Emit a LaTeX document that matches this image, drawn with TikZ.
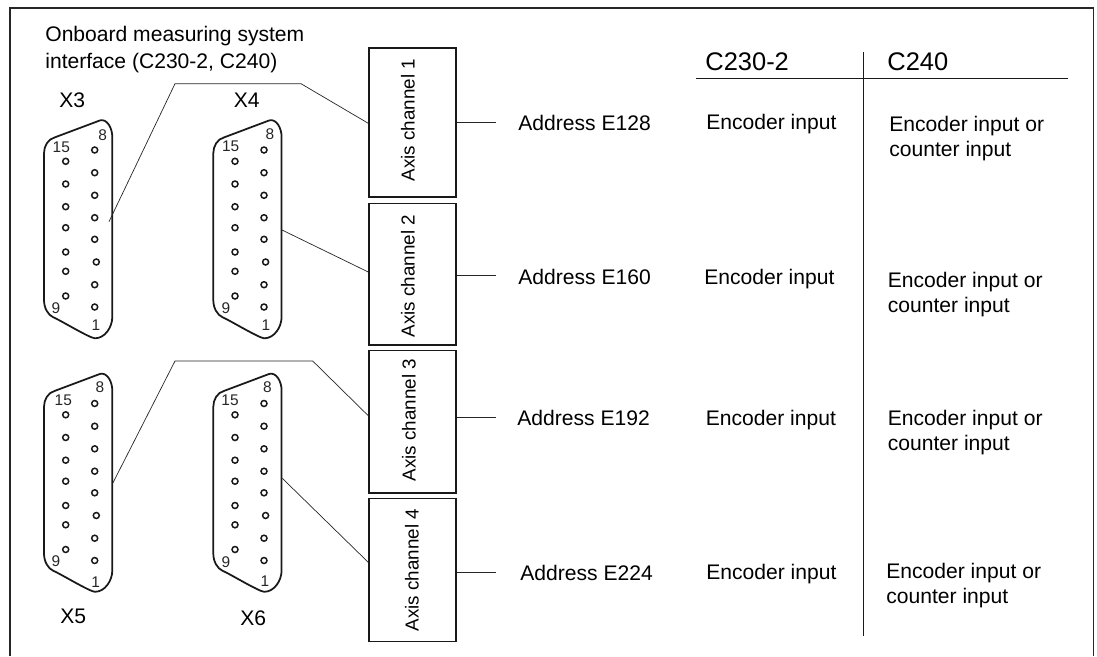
\documentclass[tikz,border=0pt]{standalone}
\usepackage{fontspec}
\setmainfont{Liberation Sans}
\usetikzlibrary{positioning}

\begin{document}
\begin{tikzpicture}[
    x=0.02cm, y=-0.02cm,
    frameline/.style={draw=black!85, line width=0.8pt},
    shell/.style={draw=black!90, line width=1pt},
    hole/.style={draw=black!90, line width=0.85pt},
    chbox/.style={draw=black!90, line width=0.85pt, minimum width=1.74cm, inner sep=0pt},
    chlabel/.style={font=\fontsize{10.7}{12}\selectfont, rotate=90, inner sep=0pt},
    wire/.style={draw=black!85, line width=0.4pt},
    rule/.style={draw=black!90, line width=0.8pt},
    txt/.style={font=\fontsize{12}{14.2}\selectfont, anchor=base west, inner sep=0pt, align=left},
    head/.style={font=\fontsize{14.5}{16}\selectfont, anchor=base west, inner sep=0pt},
    xname/.style={font=\fontsize{12}{14}\selectfont, inner sep=0pt},
    pinnum/.style={font=\fontsize{8.8}{10}\selectfont, inner sep=0pt, text=black!85}
]
\useasboundingbox (0,0) rectangle (1097,656);

% Outer frame
\coordinate (frameleft) at (10,656);
\coordinate (frametl) at (10,8);
\coordinate (frametr) at (1093.5,8);
\coordinate (frameright) at (1093.5,656);
\draw[frameline] (frameleft) -- (frametl) -- (frametr) -- (frameright);

% Title
\node[txt] (title) at (45,41) {Onboard measuring system};
\node[txt] (title2) at (45,68) {interface (C230-2, C240)};

% Sub-D connectors
\foreach \dx/\dy in {0/0, 169.3/0, 0/253.5, 169.3/253.5} {
    \begin{scope}[shift={(\dx,\dy)}]
    \draw[shell] (55,137.3) -- (100,120.4)
        .. controls (107,118.5) and (112.3,128) .. (112.3,137) -- (112.3,317)
        .. controls (112.3,327) and (105,338.3) .. (95,338.3)
        .. controls (90,338.3) and (60,320) .. (53.3,317.3)
        .. controls (48,315) and (44,308) .. (44,300) -- (44,153.3)
        .. controls (44,146) and (48,139) .. (55,137.3) -- cycle;
    \foreach \px/\py in {94.7/150, 94.7/172.7, 94.7/195.3, 94.7/217.7, 94.7/239.3, 96.3/262, 94.7/284.7, 94.7/307,
        65.7/161.3, 65.7/184, 65.7/206.7, 65.7/227.7, 65.7/252, 65.7/271.3, 65.7/296} {
        \draw[hole] (\px,\py) circle (3);
    }
    \end{scope}
}

% Pin numbers
\foreach \txtnum/\px/\py [count=\n] in {15/61.3/147.3, 8/102.7/135.3, 9/56/308.3, 1/96/325,
    15/230.7/146, 8/270/134, 9/226/308.3, 1/266/325,
    15/63.3/400, 8/100/386.7, 9/56/560.7, 1/95.7/582.3,
    15/230/400, 8/267.3/386.7, 9/226/561.7, 1/265/580.7} {
    \node[pinnum] (num\n) at (\px,\py) {\txtnum};
}

% Connector names
\node[xname] (x3) at (72.3,100.7) {X3};
\node[xname] (x4) at (246.7,100.7) {X4};
\node[xname] (x5) at (73.3,616.7) {X5};
\node[xname] (x6) at (253.3,618) {X6};

% Axis channels
\node[chbox, minimum height=2.98cm] (ch1) at (412.5,122.5) {};
\node[chbox, minimum height=2.826cm] (ch2) at (412.5,274.3) {};
\node[chbox, minimum height=2.854cm] (ch3) at (412.5,421.7) {};
\node[chbox, minimum height=2.852cm] (ch4) at (412.5,570) {};
\node[chlabel] (lab1) at (408,120) {Axis channel 1};
\node[chlabel] (lab2) at (408,276) {Axis channel 2};
\node[chlabel] (lab3) at (409,420) {Axis channel 3};
\node[chlabel] (lab4) at (412,570) {Axis channel 4};

% Wires from the connectors to the channels
\coordinate (x3out) at (109,221.7);
\coordinate (x3up) at (175,83.7);
\coordinate (x3over) at (301,83.7);
\coordinate (ch1in) at (369,123.3);
\draw[wire] (x3out) -- (x3up) -- (x3over) -- (ch1.west |- ch1in);
\coordinate (x4out) at (282,230);
\coordinate (ch2in) at (369,272);
\draw[wire] (x4out) -- (ch2.west |- ch2in);
\coordinate (x5out) at (113,482.7);
\coordinate (x5up) at (175,361);
\coordinate (x5over) at (312.7,361);
\coordinate (ch3in) at (369,415.7);
\draw[wire] (x5out) -- (x5up) -- (x5over) -- (ch3.west |- ch3in);
\coordinate (x6out) at (282.3,478.3);
\coordinate (ch4in) at (369,562.3);
\draw[wire] (x6out) -- (ch4.west |- ch4in);

% Addresses
\node[txt] (addr1) at (518,130.7) {Address E128};
\node[txt] (addr2) at (518,284) {Address E160};
\node[txt] (addr3) at (517,425.7) {Address E192};
\node[txt] (addr4) at (520,580) {Address E224};
\coordinate (stub1) at (496,122.3);
\coordinate (stub2) at (496,275.3);
\coordinate (stub3) at (496,417.3);
\coordinate (stub4) at (496,572);
\foreach \n in {1,...,4} {
    \draw[wire, line width=0.5pt] (ch\n.east |- stub\n) -- (stub\n);
}

% Table
\node[head] (c230) at (705,70) {C230-2};
\node[head] (c240) at (887,70) {C240};
\coordinate (hleft) at (696,78.7);
\coordinate (hright) at (1068,78.7);
\coordinate (vtop) at (863.3,51.7);
\coordinate (vbot) at (863.3,636);
\draw[rule] (hleft) -- (hright);
\draw[rule] (vtop) -- (vbot);

\node[txt] (enc1) at (706,129) {Encoder input};
\node[txt] (enc2) at (704,284) {Encoder input};
\node[txt] (enc3) at (705.5,425.7) {Encoder input};
\node[txt] (enc4) at (706,579) {Encoder input};
\node[txt] (both1) at (889,156) {Encoder input or\\counter input};
\node[txt] (both2) at (887.5,312.7) {Encoder input or\\counter input};
\node[txt] (both3) at (887.5,450.7) {Encoder input or\\counter input};
\node[txt] (both4) at (886,603) {Encoder input or\\counter input};

\end{tikzpicture}
\end{document}
